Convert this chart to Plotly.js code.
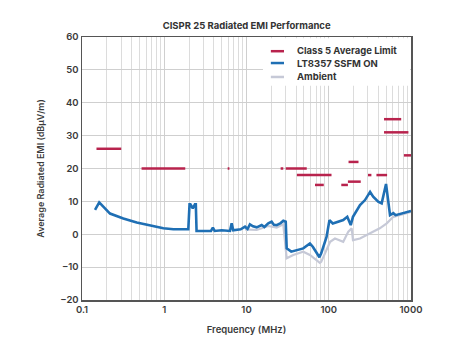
<!DOCTYPE html>
<html><head><meta charset="utf-8">
<script src="https://cdn.plot.ly/plotly-3.0.1.min.js"></script>
<style>html,body{margin:0;padding:0;background:#fff}#c{width:461px;height:360px}</style>
</head><body><div id="c"></div>
<script>
// Class 5 average limit segments: [fStart, fEnd, level]
const limitStart = [0.15, 0.53, 5.9, 26, 30, 41, 68, 142, 171, 174, 300, 380, 470, 470, 820];
const limitEnd   = [0.30, 1.8, 6.2, 28, 54, 108, 87, 171, 245, 230, 330, 512, 760, 930, 1000];
const limitLevel = [26, 20, 20, 20, 20, 18, 15, 15, 16, 22, 18, 18, 35, 31, 24];

const ssfmFreq = [0.144, 0.162, 0.219, 0.318, 0.462, 0.671, 0.975, 1.29, 1.96, 2.03, 2.08, 2.22, 2.36, 2.42, 2.47, 3.0, 3.7, 3.9, 4.1, 5.0, 6.3, 6.6, 6.9, 8.5, 9.6, 10.3, 11, 12, 13.3, 15.3, 16.5, 18.4, 20.2, 21.5, 23.3, 26, 28, 30, 30.8, 35, 40.8, 49, 59, 64, 77, 81, 94, 102, 112, 131, 150, 168, 185, 197, 240, 276, 318, 347, 399, 440, 497, 556, 610, 650, 807, 1000];
const ssfmLevel = [7.4, 9.7, 6.3, 4.8, 3.6, 2.6, 1.8, 1.5, 1.5, 9.1, 9.1, 7.9, 9.1, 9.1, 1.0, 1.0, 1.0, 2.0, 1.0, 1.2, 1.0, 3.3, 1.2, 1.5, 2.3, 1.6, 3.0, 2.4, 2.1, 2.8, 2.2, 3.3, 3.8, 2.9, 2.8, 3.4, 4.1, 3.8, -4.3, -5.3, -4.8, -4.3, -2.8, -3.8, -7.0, -5.8, -0.8, 4.3, 3.3, 3.8, 4.3, 5.3, 2.8, 5.3, 8.9, 10.4, 12.9, 11.4, 9.9, 9.4, 15.3, 5.8, 6.4, 5.8, 6.5, 7.1];

const ambFreq = [9.6, 13.3, 18.4, 23.3, 28, 30.8, 37, 49, 59, 78, 81, 94, 104, 119, 131, 150, 173, 190, 197, 240, 318, 417, 507, 610, 1000];
const ambLevel = [1.5, 1.3, 2.5, 2.0, 3.0, -7.3, -6.3, -5.3, -6.3, -8.7, -8.4, -4.8, -2.3, -1.3, -1.8, -2.3, 0.8, 1.8, -1.8, -1.3, 0.3, 1.8, 3.3, 5.3, 6.8];

const xTickVals = [0.1, 1, 10, 100, 1000];
const xTickText = ['0.1', '1', '10', '100', '1000'];

const seriesNames = ['Class 5 Average Limit', 'LT8357 SSFM ON', 'Ambient'];

const red = '#b8234d', blue = '#1f6fb4', grey = '#c6c9d7';
const seriesColors = [red, blue, grey];
const traces = [];
limitStart.forEach((s, i) => {
  traces.push({x: [s, limitEnd[i]], y: [limitLevel[i], limitLevel[i]], mode: 'lines',
    line: {color: red, width: 2.5}, name: seriesNames[0], hoverinfo: 'skip'});
});
traces.push({x: ambFreq, y: ambLevel, mode: 'lines', line: {color: grey, width: 2.2}, name: seriesNames[2]});
traces.push({x: ssfmFreq, y: ssfmLevel, mode: 'lines', line: {color: blue, width: 2.6}, name: seriesNames[1]});

// custom compact legend
const legRowY = [0.946, 0.901, 0.848];
const shapes = [{type: 'rect', xref: 'paper', yref: 'paper', x0: 0.55, x1: 0.997, y0: 0.815, y1: 0.995,
  fillcolor: '#fff', line: {width: 0}, layer: 'above'}];
const annotations = [];
seriesNames.forEach((n, i) => {
  shapes.push({type: 'line', xref: 'paper', yref: 'paper', x0: 0.574, x1: 0.614, y0: legRowY[i], y1: legRowY[i],
    line: {color: seriesColors[i], width: 2.5}, layer: 'above'});
  annotations.push({xref: 'paper', yref: 'paper', x: 0.648, y: legRowY[i], xanchor: 'left', yanchor: 'middle',
    text: n, showarrow: false, font: {family: 'Inter, Roboto, sans-serif', size: 9.5, color: '#333', weight: 700}});
});

const layout = {
  width: 461, height: 360,
  margin: {l: 82, r: 50, t: 37, b: 60},
  paper_bgcolor: '#fff', plot_bgcolor: '#fff',
  font: {family: 'Inter, Roboto, sans-serif', color: '#3a3a3a', size: 9, weight: 600},
  showlegend: false,
  title: {text: 'CISPR 25 Radiated EMI Performance', x: 0.535, xanchor: 'center', y: 0.93, yanchor: 'middle',
    font: {family: 'Inter, Roboto, sans-serif', size: 9.5, color: '#333', weight: 700}},
  xaxis: {type: 'log', range: [-1, 3], tickvals: xTickVals, ticktext: xTickText,
    showgrid: true, gridcolor: '#cfcfcf', gridwidth: 1,
    minor: {dtick: 'D1', showgrid: true, gridcolor: '#dcdcdc', gridwidth: 1},
    showline: true, linecolor: '#555', linewidth: 1.5, mirror: true, ticks: '', zeroline: false,
    title: {text: 'Frequency (MHz)', font: {size: 9.5, color: '#3a3a3a', weight: 600}, standoff: 12},
    tickfont: {size: 9.5, color: '#3a3a3a', weight: 600}},
  yaxis: {range: [-20, 60], dtick: 10, showgrid: true, gridcolor: '#cfcfcf', gridwidth: 1,
    showline: true, linecolor: '#555', linewidth: 1.5, mirror: true, ticks: '', zeroline: false,
    title: {text: 'Average Radiated EMI (dBµV/m)', font: {size: 9, color: '#3a3a3a', weight: 600}, standoff: 14},
    tickfont: {size: 9.5, color: '#3a3a3a', weight: 600}},
  shapes: shapes,
  annotations: annotations
};
Plotly.newPlot('c', traces, layout, {displayModeBar: false, staticPlot: true});
</script></body></html>
